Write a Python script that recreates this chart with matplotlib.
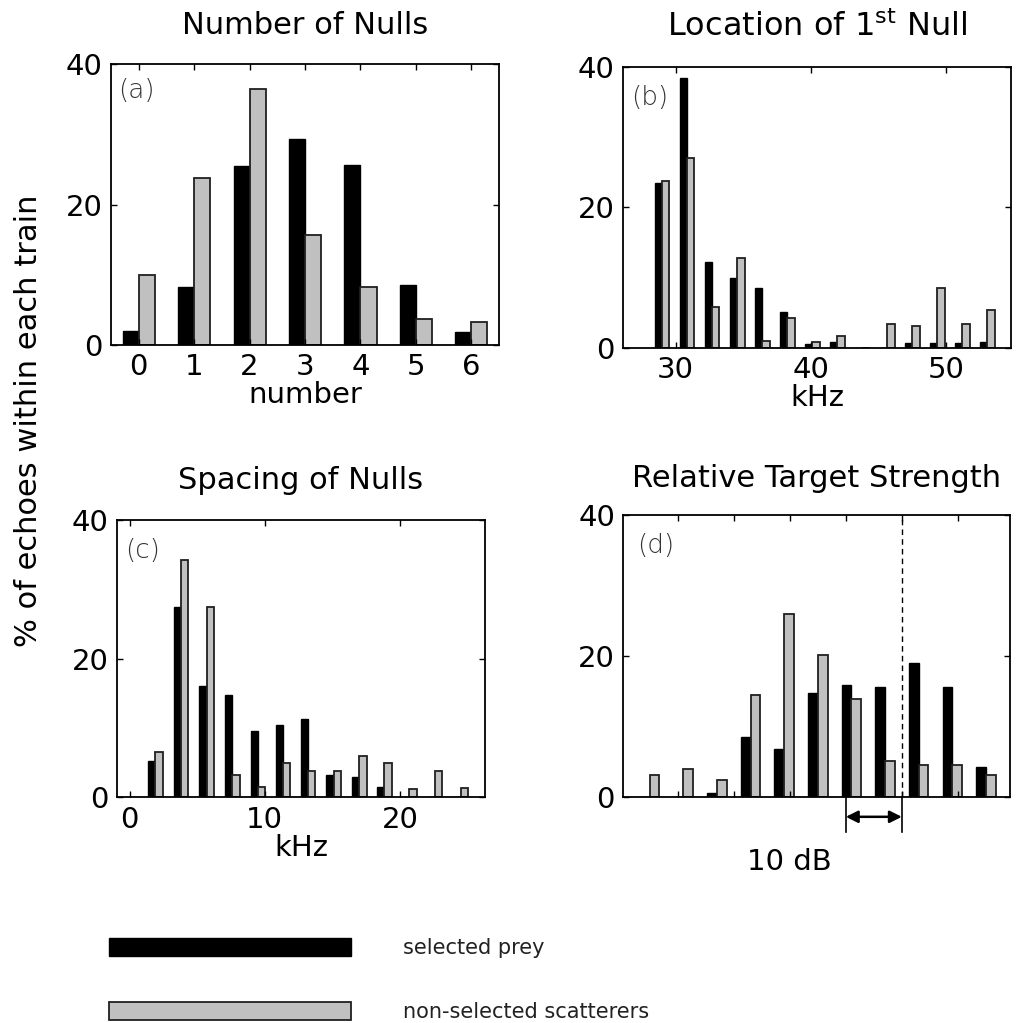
import numpy as np
import matplotlib.pyplot as plt

plt.rcParams['font.family'] = ['DejaVu Sans']
plt.rcParams['mathtext.default'] = 'regular'

# (a) number of nulls
a_num = [0, 1, 2, 3, 4, 5, 6]
a_prey = [2.0, 8.3, 25.5, 29.4, 25.7, 8.6, 1.8]
a_other = [10.0, 23.8, 36.5, 15.7, 8.3, 3.7, 3.2]

# (b) location of 1st null, kHz
b_khz = [29.0, 30.85, 32.7, 34.55, 36.4, 38.25, 40.1, 41.95, 43.8, 45.65, 47.5, 49.35, 51.2, 53.05]
b_prey = [23.4, 38.4, 12.2, 9.9, 8.5, 5.1, 0.6, 0.85, 0, 0, 0.65, 0.65, 0.65, 0.9]
b_other = [23.8, 27.0, 5.9, 12.8, 1.0, 4.3, 0.8, 1.7, 0, 3.4, 3.2, 8.5, 3.4, 5.4]

# (c) spacing of nulls, kHz
c_khz = [1.9, 3.8, 5.7, 7.6, 9.5, 11.35, 13.2, 15.1, 17.0, 18.85, 20.7, 22.6, 24.5]
c_prey = [5.2, 27.5, 16.0, 14.8, 9.6, 10.4, 11.3, 3.2, 3.0, 1.5, 0, 0, 0]
c_other = [6.6, 34.3, 27.5, 3.2, 1.5, 4.9, 3.8, 3.8, 5.9, 5.0, 1.15, 3.8, 1.3]

# (d) relative target strength, dB (0 = dashed reference)
d_db = [-45, -39, -33, -27, -21, -15, -9, -3, 3, 9, 15]
d_prey = [0, 0, 0.6, 8.6, 6.9, 14.8, 15.9, 15.7, 19.1, 15.7, 4.3]
d_other = [3.2, 4.0, 2.5, 14.5, 26.0, 20.1, 13.9, 5.1, 4.6, 4.6, 3.2]
d_ticks = [-40, -30, -20, -10, 0, 10]
span_db = [-10, 0]

GRAY = '#c0c0c0'
TICK_FS = 21
LABEL_FS = 21


def hist_pair(ax, x, prey, other, step):
    w = 0.29 * step
    x = np.asarray(x, dtype=float)
    h1 = ax.bar(x - w / 2, prey, w, color='black', edgecolor='black', linewidth=1)
    h2 = ax.bar(x + w / 2, other, w, color=GRAY, edgecolor='#202020', linewidth=1.3)
    ax.set_ylim(0, 40)
    ax.set_yticks([0, 20, 40])
    ax.tick_params(direction='in', top=True, right=True, length=4, width=1,
                   labelsize=TICK_FS, pad=6)
    for s in ax.spines.values():
        s.set_linewidth(1.3)
    return h1, h2


def panel_tag(ax, txt, x, y):
    ax.text(x, y, txt, transform=ax.transAxes, ha='left', va='top',
            fontsize=19, color='#333333', fontweight='light')


fig = plt.figure(figsize=(10.16, 10.23), dpi=100)

ax_a = fig.add_axes([0.1093, 0.6628, 0.3819, 0.2744])
ax_b = fig.add_axes([0.6132, 0.6598, 0.3819, 0.2750])
ax_c = fig.add_axes([0.1149, 0.2206, 0.3625, 0.2711])
ax_d = fig.add_axes([0.6135, 0.2206, 0.3806, 0.2760])

# (a)
bars = hist_pair(ax_a, a_num, a_prey, a_other, 1.0)
ax_a.set_xlim(-0.5, 6.5)
ax_a.set_xticks(a_num)
ax_a.set_xlabel('number', fontsize=LABEL_FS, labelpad=0)
ax_a.set_title('Number of Nulls', fontsize=22, pad=22)
panel_tag(ax_a, '(a)', 0.018, 0.95)

# (b)
hist_pair(ax_b, b_khz, b_prey, b_other, 1.85)
ax_b.set_xlim(26.1, 54.8)
ax_b.set_xticks([30, 40, 50])
ax_b.set_xlabel('kHz', fontsize=LABEL_FS, labelpad=0)
ax_b.set_title(r'Location of 1$^{st}$ Null', fontsize=23, pad=22)
panel_tag(ax_b, '(b)', 0.02, 0.935)

# (c)
hist_pair(ax_c, c_khz, c_prey, c_other, 1.88)
ax_c.set_xlim(-0.95, 26.3)
ax_c.set_xticks([0, 10, 20])
ax_c.set_xlabel('kHz', fontsize=LABEL_FS, labelpad=0)
ax_c.set_title('Spacing of Nulls', fontsize=22, pad=22)
panel_tag(ax_c, '(c)', 0.022, 0.935)

# (d)
hist_pair(ax_d, d_db, d_prey, d_other, 6.0)
ax_d.set_xlim(-49.7, 19.3)
ax_d.set_xticks(d_ticks)
ax_d.set_xticklabels([])
ax_d.axvline(span_db[1], color='black', linestyle=(0, (4, 3)), linewidth=1)
ax_d.set_title('Relative Target Strength', fontsize=22, pad=20)
panel_tag(ax_d, '(d)', 0.036, 0.935)

# 10 dB scale bar under panel (d)
tr = ax_d.get_xaxis_transform()
for xv in span_db:
    ax_d.plot([xv, xv], [0, -0.122], color='black', linewidth=1.2,
              transform=tr, clip_on=False)
ax_d.annotate('', xy=(span_db[0], -0.069), xytext=(span_db[1], -0.069),
              xycoords=tr, textcoords=tr,
              arrowprops=dict(arrowstyle='<|-|>', color='black', lw=1.8,
                              shrinkA=0, shrinkB=0, mutation_scale=18))
ax_d.text(-20, -0.18, '10 dB', transform=tr, ha='center', va='top', fontsize=LABEL_FS)

fig.text(0.028, 0.589, '% of echoes within each train', rotation=90,
         ha='center', va='center', fontsize=22)

fig.legend(bars, ['selected prey', 'non-selected scatterers'],
           loc='upper left', bbox_to_anchor=(0.097, 0.093), frameon=False,
           fontsize=15, handlelength=11.6, handleheight=0.92,
           labelspacing=2.1, handletextpad=2.5, borderpad=0, labelcolor='#222222')

fig.savefig('out.png', dpi=100)
